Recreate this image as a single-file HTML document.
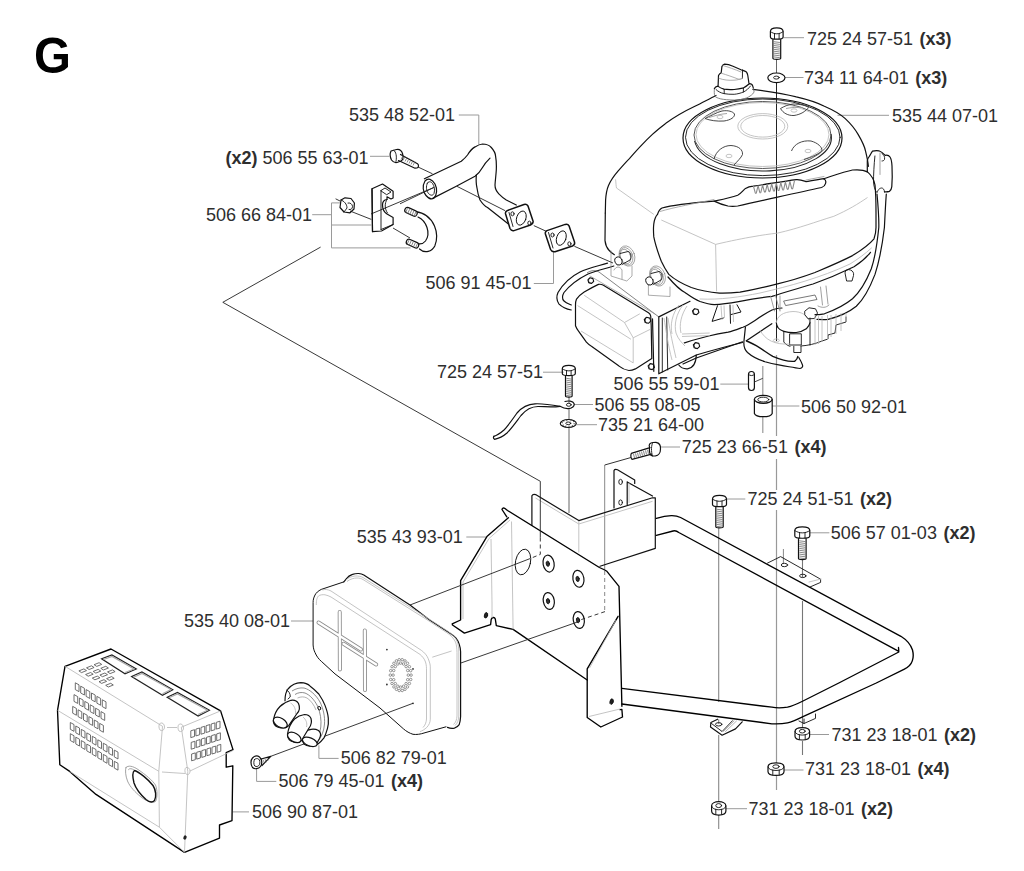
<!DOCTYPE html>
<html><head><meta charset="utf-8"><style>
html,body{margin:0;padding:0;background:#fff;width:1024px;height:871px;overflow:hidden}
svg{position:absolute;left:0;top:0}
.t{font-family:"Liberation Sans",sans-serif;font-size:18px;fill:#2e2e2e}
.b{font-weight:bold}
.g{stroke:#9a9a9a;stroke-width:1;fill:none}
.k{stroke:#111;stroke-width:1.2;fill:none;stroke-linejoin:round;stroke-linecap:round}
.kt{stroke:#111;stroke-width:0.9;fill:none;stroke-linejoin:round;stroke-linecap:round}
.kb{stroke:#000;stroke-width:1.35;fill:none;stroke-linejoin:round;stroke-linecap:round}
.lg{stroke:#b5b5b5;stroke-width:0.8;fill:none}
.w{fill:#fff}
</style></head><body>
<svg width="1024" height="871" viewBox="0 0 1024 871">
<text x="34" y="73" font-family="Liberation Sans" font-weight="bold" font-size="50" fill="#000" transform="translate(34 0) scale(0.95 1) translate(-34 0)">G</text>
<g class="g">
<path d="M783.4,37.7H804"/>
<path d="M785,77.5H803.5"/>
<path d="M837.5,115.3H889"/>
<path d="M458.8,115H478.8V144.4"/>
<path d="M370,156.3H389.4"/>
<path d="M312.2,214.7H331.5M331.5,202.9V247.9M331.5,202.9H340.3M331.5,225H371.3M331.5,247.9H410.5"/>
<path d="M533.8,283.5H553.5V251.9"/>
<path d="M543,372.2H563.6"/>
<path d="M720.3,384.1H748.4"/>
<path d="M574,404.5H593"/>
<path d="M577,424.7H597"/>
<path d="M772.2,406H799.4"/>
<path d="M660,447H680"/>
<path d="M726.6,499H745.3"/>
<path d="M809.7,532.8H829.4"/>
<path d="M466.3,537H486"/>
<path d="M291,621H313"/>
<path d="M318.9,745.3V758.4H338.6"/>
<path d="M256.6,768.3V781.4H276.3"/>
<path d="M232.7,811.9H249"/>
<path d="M809.6,734.5H829"/>
<path d="M784,770H803.5"/>
<path d="M725.8,808.7H747"/>
</g>
<g fill="none" stroke-width="1">
<path d="M776.5,59V73" stroke="#666"/>
<path d="M776.5,82V341" stroke="#222"/>
<path d="M776.5,355V436M776.5,459V490M776.5,510V763M776.5,776V790" stroke="#999" stroke-width="1.2"/>
<path d="M762.8,366V395M762.8,417V433" stroke="#999" stroke-width="1.2"/>
<path d="M569,397V403M569,408V420M569,428V513" stroke="#666"/>
<path d="M718.7,528V702M718.7,719.5V724M718.7,735V802M718.7,815V829" stroke="#888" stroke-width="1.1"/>
<path d="M802.5,559V577M802.5,601V728M802.5,741V755" stroke="#777" stroke-width="1.1"/>
<path d="M783.4,549V563" stroke="#888"/>
<path d="M604.7,465V570" stroke="#888"/>
<path d="M604.7,571V611.6" stroke="#888" stroke-dasharray="4,3"/>
<path d="M631,457.5L604.7,465" stroke="#333"/>
</g>
<g class="k">
<!-- shroud outer -->
<path d="M605.3,213 L605.6,200 C606,194 607,189 608.5,185.5 C610.5,181 613,177 618,171.2 C622,166.5 625,163 629.4,158.6 C633,154.5 637,150 640.9,145.9 C645,141.5 648.5,138 652.4,134.4 C657,130 661,127 666.2,123 C676,116 685,111 694.9,106.3 C702,102.8 709,99 716,95.5"/>
<path d="M753,89.4 C770,91.5 785,94 796.3,96.9 C808,99.6 817,102.5 824.4,106.3 C834,110.5 840,114 845,118.4 C851,124 855,129 858.1,134.4 C862,141 864.5,146 865.6,151.3 C867,157 868,162 868.4,166.3"/>
<path d="M605.3,213 L605,240.6 C605.5,245 607,248 608.8,250 C610.5,252 612,253.5 614.4,254.7"/>
<!-- blower housing front -->
<path d="M657.5,214.4 C658.5,211 660,209 662,208 C672,205 690,203 714.2,201.1"/>
<path d="M823.6,178.7 C835,175 845,171.5 852.5,170 C858,169.5 864,170 867.5,171.9 C871,175 874,179 875,185 C876,195 876,205 876,213 L876,227.5 C876,232 875,236 874,238.8 C868,246 860,251 852.5,255.6 C840,262 828,267 815,272.5 C800,278 790,281 777.5,283.8 C765,287 752,290 740,292.2 C732,293 726,293.3 719.4,293.1 C708,292 699,290 691.3,287.5 C680,283 674,279 668.8,274.4 C665,269 663,265 661.3,261.3 C657,250 655,243 653.8,236.9 C653.3,231 653.3,228 653.8,223.8 C654.5,219 656,216 657.5,214.4"/>
<path d="M668,277 C674,284 680,290 685,292.5 C690,296 694,299 700,301.5 C706,303.5 710,304.5 714.2,304.6 C722,304.5 730,303.3 738.6,301.7 C750,299.5 762,297.5 772,296.4 C785,292 800,288 813,284 C827,279 841,273 854,266.7 C860,263 866,258 870.5,252.3"/>
<path d="M700,299 C720,300 740,297 760,293 C790,286 820,278 850,264 C858,259 865,254 871.5,248" class="lg"/>
<!-- handle -->
<path d="M714.2,201.1 C722,199.5 730,198 737.7,195.3 C741,193.5 743,190.5 745.5,188.4 C748,186.8 750.5,186.3 753.3,186.1 C768,184 782,181.5 796.3,179.6 C800,179.3 803,180.5 806,181.6 C812,181 818,179.5 823.6,178.7 C825.5,179.5 826.2,181.5 825.5,183.6 C825,185.5 823.5,186.8 821.6,187.5 C795,193 766,200 737.7,206 C734.5,206.5 731,206.5 727.9,206 C722.5,204.8 718,203 714.2,201.1 Z"/>
<path d="M660,211.5 C675,207 695,203.5 714,199.5 M806,180 C812,179 818,177.5 824,176.5" stroke="#999" stroke-width="0.8"/>
<path d="M753.5,186.3 L755.2,192.7 Q755.8,193.9 756.4,192.7 L758.1,185.7 L759.7,192.2 Q760.3,193.4 760.9,192.2 L762.6,185.1 L764.3,191.6 Q764.9,192.8 765.5,191.6 L767.2,184.4 L768.8,191.1 Q769.4,192.3 770.0,191.1 L771.7,183.8 L773.4,190.5 Q774.0,191.7 774.6,190.5 L776.3,183.2 L778.0,189.9 Q778.6,191.1 779.2,189.9 L780.8,182.6 L782.5,189.4 Q783.1,190.6 783.7,189.4 L785.4,181.9 L787.1,188.8 Q787.7,190.0 788.3,188.8 L789.9,181.3 L791.6,188.3 Q792.2,189.5 792.8,188.3 L794.5,180.7 " stroke="#8a8a8a" stroke-width="1.1" fill="none" stroke-linejoin="round"/>
<!-- flywheel cover -->
<ellipse cx="762.5" cy="138" rx="79.5" ry="40"/>
<ellipse cx="762.8" cy="137.3" rx="77.3" ry="38.3" class="kt"/>
<!-- fuel cap -->
<path d="M714.4,88.5 C714.2,91 714.2,94 714.7,96 C717,98.5 722,99.8 734.2,100.1 C742,100 748,98 751.5,95 C753.5,93.5 754.2,92 754,91.2 C753.8,90 753.6,89 753.3,88.5" stroke="#777" stroke-width="0.9" fill="none"/>
<path d="M714.4,88.5 C715,87.3 716.3,86.5 717.8,86.1 C719.5,87.5 721.5,88.5 723.9,89.2 C727,89.7 730.5,89.8 734.2,89.5 C737.5,89.2 740.5,88.6 743.7,87.8 C746,86.5 747.8,85 749.2,83.7 C750.5,83.8 751.3,84 751.9,84.4 C752.5,85.3 753,86.5 753.3,88"/>
<path d="M716,89.5 C718,91.5 720.5,92.8 723.9,93.6 C727,94.2 730.5,94.4 734.2,94.3 C737.5,94 740.5,93.2 743.7,91.9 C746.5,90.5 748.5,88.5 750.5,86" class="kt"/>
<path d="M724.2,89.3 L724.2,93.6 M743.4,88 L743.4,92" class="kt"/>
<path d="M718.1,85.8 L718.5,75.5 C719.2,74.3 720.2,73.4 721.2,72.8 L721.9,66.6 C722.5,65.3 723.5,64.5 724.6,64.2 C727,64.3 730,65 733,66.2 L741,69.7 C743,70.5 745,71.2 746.5,72.1 C747.3,73.2 747.6,74.3 747.8,75.5 L748.9,83"/>
<path d="M742.5,70 L742.4,78.2" class="kt"/>
<path d="M721.5,73.3 C727,75 733,77 738,79 C740,79.5 741.5,79 742.4,78.2 M719,78.3 C723,80 729,80.6 734,80.2 C737,80 739.5,79.5 742,78.5 M723,65.5 C728,67 735,69.5 741,72" stroke="#999" stroke-width="0.8" fill="none"/>
<!-- spark plug boot -->
<path d="M872.5,151.2 C875,150.5 877,150.5 878.9,150.8 C881,151.5 883,153 885.3,155.3 C887,155 889,155.5 890,157 C891,158.5 891.8,162 892,166 C892.3,172 892.3,180 891.8,186.6 C891.5,189 890.5,190.8 889.4,191.4 C887.5,192 886,192 884.5,191.8 M872.5,151.2 C871,153 870.5,155 869,156.9 C868,158 867.5,159.5 867.3,160.9 L867.3,172.1"/>
<path d="M874.9,156 C874,165 873.5,175 873.5,182 C873.8,186 874.8,190 876.5,192.2" class="kt"/>
<path d="M877.3,192.2 C878,189 880.5,188 881.5,188 C883,188 884.5,189.5 884.5,192" class="kt"/>
<path d="M880,153 L880,174.5" stroke="#999" stroke-width="0.9"/>
<path d="M882,153.5 C884,154.5 885,157 884.5,159.5 C884,160.5 883,161 882,161" class="kt"/>
<!-- spark plug wire -->
<path d="M877,194 C878.5,210 879,220 878.8,227.5 C877,245 875,258 871.3,268.8 C866,282 860,292 852.5,298.8 C845,305 835,310 824.4,313.8 C820,314.5 817,314.7 815,314.7"/>
<path d="M886.3,194 C885.5,205 885,215 884.4,227.5 C882,248 879,262 875,274.4 C869,290 863,300 856.3,306.3 C848,313 838,317 828.1,319.4 C823,319.8 819,319.5 817,319.4"/>
<!-- engine block / carb -->
<path d="M598.4,284.4 C593,287 588.5,289.5 584.2,292 C581,294 578.5,296.5 576.5,299.1 C575.7,301 575.5,303 575.5,305.1 L575.5,325.8 C576.3,328 577.3,329.8 578.7,331.3 L586.4,342.2 C588,344 589.8,345.5 591.8,346.5 L619,366.1 C622,368.5 625.5,370 628.9,370.5 C631,370.5 633.3,369.9 635.4,368.9 L651.8,358.5 L651.2,325.8 L650.7,316 M598.4,284.4 C600,284 601.5,284.3 603,285 L648.5,312.7 C649.8,313.5 650.5,314.7 650.7,316"/>
<path d="M587.5,272.5 L591,271 C594,270 597,271 599,272 L658.8,316.9" stroke="#777" stroke-width="0.9"/>
<path d="M658.8,316.9 L690,301.3 M658.8,316.9 L658.8,373.8 L696.3,355 C710,351 728,346 742.5,342.5"/>
<path d="M590,276 L655,314" stroke="#999" stroke-width="0.8"/>
<path d="M652.5,318.8 L653.8,371.3"/>
<path d="M678.8,365 C681,368 684,369 687.5,368.8 C693,368 696,364 696.3,355"/>
<path d="M684.3,342.9 C692,340.5 700,338 708.7,336 C715,334.5 721,333.3 728.2,332.1 C733,331 738,329 742.9,327.2 C747,325.5 751,323 755,320.4 C760,317 766,313 772,310 C776,308.5 779,308 782,308"/>
<path d="M717.5,305.7 L712.1,321.4 L723.4,318 M730,305 L730.5,323.3 M737,304.8 L741,312 L731.2,314.5" stroke-width="1"/>
<path d="M662.3,318 L662.3,372 M666.7,317 L667.7,370" stroke-width="0.9"/>
<path d="M683,364 L696.3,358 L742.5,341.8"/>
<path d="M745.4,327.1 L744,340.8 C743.5,345 744,349 747.5,352.5 C752,356.5 758,359.5 765,361.8 C770,363.3 775,364.5 780,365.2 C788,366.5 795,367.8 800,368.5 C802,368 803,366.8 802.5,365 C801.5,362 800,359.5 798.8,357.5"/>
<path d="M746.4,340.8 C750,342.5 753,343.8 756.2,345.7 C762,349 767,353 772.8,356.4 C780,359.5 788,362 794.6,361.3 C796.5,360 797.5,358.5 797.8,356.5" stroke-width="1.4"/>
<path d="M746.4,340.8 L771.8,323.7"/>
<path d="M776.3,322.5 C776.5,327 779,330 783.8,331.3 C788,332.5 792,332.8 796.3,332.5 C800,332 803.5,330.8 806.3,328.8 C808.5,326.5 809.8,324.5 810,322.5"/>
<path d="M776.3,322.5 C777,316 783,312 793,311.5 C801,311.5 808,315 810,322.5" class="lg"/>
<path d="M783.8,331.3 L783.8,342 C786,345 789,346 790,346.3 M790,333.8 L801.3,333.8 L801.3,345 L790,345 Z M793.8,346.3 L793.8,352.5 L801,352.5 L801,346.3" class="kt"/>
<path d="M805,311 L809,307.8 L815.5,308.8 L817.5,313 L814.5,318.5 L808,318.8 L805,315 Z" class="kt"/>
<path d="M810,318 L810,345 M801,346 C808,345.5 815,344 822,341 L828,339 L828,335 L835,333 L836,325 L846,322 L846,317" class="kt"/>
<path d="M784,301 L815,295 L817,299.5 L786,305.5 Z" stroke="#555" stroke-width="0.8"/>
<path d="M770.5,296 L774.5,311 M775.5,295.5 L779.5,310 M780,296 L780,311" stroke="#888" stroke-width="0.8"/>
<path d="M820.5,287 L822.5,305 M826,286 L828,304 M818,306 C822,308 826,308 829,305" stroke="#888" stroke-width="0.8"/>
<path d="M845,272.5 C845,270 848,269 850.5,270 C853,271 854,273 853.5,275.5 L852,281 L847,281 Z" class="kt"/>
<!-- fuel line -->
<path d="M607.5,263.1 C598,266 588,268 580,272 C570,277 563,284 558,292.5 C556,297 557,301 558.8,303.8 C562,307 566,309 571.3,310"/>
<path d="M613.8,266 C604,269 595,271 588,274 C578,279 570,285 564,292.5 C562,296 562,299 564,301 C566,303 569,304 571.3,305"/>
</g>
<g class="lg">
<path d="M584.2,295.3 L624.5,322.5 L639.8,313.8 M624.5,322.5 L633.2,337.8 L633.2,362.9 M633.2,337.8 L650.7,329.1 M577.6,305.6 L631,339.3 M581,331 L633.2,362.9"/>
<path d="M721,305.5 L722,320 M724,305.5 L724.5,318 M733,305 L733.5,322 M683,305 C676,314 674,325 676,333 C678,339 682,343 685,346 M679,305 C672,314 670,325 672,334 M687,306 C681,315 679,325 681,333 M682,334 L709.7,333 M682,336.5 L709.7,335.5"/>
<path d="M815,316 L815,345 M818.5,316 L818.5,344 M822,316 L822,342 M827.5,315 L827.5,340 M831,315 L831,337 M836,314 L836,334 M841,313 L841,331 M846,313 L846,322"/>
<path d="M664,318 C666,330 668,345 672,360 M668,318 C670,332 673,345 676,358"/>
<path d="M760,330 C765,340 775,345 790,344"/>
<ellipse cx="776.3" cy="340.5" rx="3" ry="1.6"/>
</g>
<g class="kt">
<path d="M650.7,321.1 L648.4,323.3 L645.2,322.5 L644.3,319.5 L646.6,317.3 L649.8,318.1 Z" stroke-width="1.1"/><path d="M646.0,317.3 C644.7,319.3 645.0,321.8 646.5,323.3" stroke-width="0.7"/>
<path d="M654.5,367.4 L652.2,369.6 L649.0,368.8 L648.1,365.8 L650.4,363.6 L653.6,364.4 Z" stroke-width="1.1"/><path d="M649.8,363.6 C648.5,365.6 648.8,368.1 650.3,369.6" stroke-width="0.7"/>
<path d="M698.9,312.5 L696.6,314.7 L693.4,313.9 L692.5,310.9 L694.8,308.7 L698.0,309.5 Z" stroke-width="1.1"/><path d="M694.2,308.7 C692.9,310.7 693.2,313.2 694.7,314.7" stroke-width="0.7"/>
<path d="M699.7,346.4 L697.4,348.6 L694.2,347.8 L693.3,344.8 L695.6,342.6 L698.8,343.4 Z" stroke-width="1.1"/><path d="M695.0,342.6 C693.7,344.6 694.0,347.1 695.5,348.6" stroke-width="0.7"/>
<path d="M593.7,281.3 L591.6,283.4 L588.7,282.6 L587.9,279.9 L590.0,277.8 L592.9,278.6 Z" stroke-width="1.1"/><path d="M589.3,277.9 C588.0,279.6 588.3,282.1 589.8,283.3" stroke-width="0.7"/>
<g stroke="#888" stroke-width="0.7" fill="none">
<ellipse cx="625.5" cy="256.5" rx="5" ry="7.5" transform="rotate(-20 625.5 256.5)"/>
<ellipse cx="626.3" cy="256.3" rx="6.3" ry="9" transform="rotate(-20 626.3 256.3)"/>
<ellipse cx="627" cy="256" rx="7.6" ry="10.4" transform="rotate(-20 627 256)"/>
<ellipse cx="656" cy="276.5" rx="5" ry="7.5" transform="rotate(-20 656 276.5)"/>
<ellipse cx="656.8" cy="276.3" rx="6.3" ry="9" transform="rotate(-20 656.8 276.3)"/>
<ellipse cx="657.5" cy="276" rx="7.6" ry="10.4" transform="rotate(-20 657.5 276)"/>
<path d="M611,251 L611,276 L626.8,281 L632,276 L632,266 M614,270 C616,266 620,266 622,270 L622,279"/>
<path d="M648.4,283 L648.4,295.2 L670,296.5 L670,287"/>
</g>
<g class="kt" stroke-width="1">
<path d="M620,253.5 L628,251.5 C631,252 632,257 630,260 L622,264.5"/>
<ellipse cx="618.5" cy="261" rx="3.6" ry="4.2" transform="rotate(-20 618.5 261)" fill="#fff"/>
<path d="M651,273.5 L659,271.5 C662,272 663,277 661,280 L653,284.5"/>
<ellipse cx="649.5" cy="281" rx="3.6" ry="4.2" transform="rotate(-20 649.5 281)" fill="#fff"/>
</g>

</g>

<g class="lg">
<path d="M615.6,179.4 C616,183 616,186 616.5,188 L653.8,214.4"/>
<path d="M661.3,220 L715.6,244.4 C730,241 745,238 752,236.9 C762,235 770,234 777.5,233.1 C800,228 815,222 833.8,216.3 C848,210 858,204 867.5,197.5"/>
<path d="M715.6,244.4 L716.6,291.3"/>
<ellipse cx="762.5" cy="135" rx="68.5" ry="33.5" stroke="#444" stroke-width="0.9"/>
<ellipse cx="762.5" cy="134.5" rx="66.5" ry="32"/>
<ellipse cx="762.8" cy="126.3" rx="25" ry="12.7"/>
<ellipse cx="762.8" cy="126.3" rx="22" ry="10.8"/>

<g stroke="#333" stroke-width="0.9" fill="none">
<path d="M705,118.5 C711,116 716,112.5 722,111 C728,110 733,111.5 734.5,114 C735,117 731,120 724,121 C717,121.5 710,120.5 705,118.5Z"/>
<path d="M780.5,108.5 C784,106.5 788,104.5 793,104 C800,104 806,105.5 808.5,107.5 C806,111 801,114.5 794,115.5 C788,115.8 783,113 780.5,108.5Z"/>
<path d="M714,159 C716,151 723,145.5 731,145.5 C739,146 743,150 742.5,154.5 C741,158 737.5,161 734,165"/>
<path d="M791.5,151 C794,144 802,140 811,141 C818,143 822,147 822,150.5 C819,154 812,157 804,159.5"/>
<path d="M709,117.5 C714,116 720,114 727,113.5 M786,108.5 C791,107.5 797,107 803,107.5" stroke="#999"/>
</g>
<path d="M694.6,141 A68.5 33.5 0 0 0 831,134" stroke="#222" stroke-width="1.05" fill="none"/>
<ellipse cx="720" cy="117" rx="3" ry="1.7"/>

<ellipse cx="794" cy="110.5" rx="3" ry="1.7"/>

<ellipse cx="729" cy="156" rx="3" ry="1.7"/>

<ellipse cx="808" cy="151" rx="3" ry="1.7"/>



</g>
<g class="k">
<!-- pipe -->
<path d="M424.4,178.8 L461.3,161.3 C464,159 466,157 467.5,155 C470,151 472,148.5 475,146.9 C478,145 480,144.2 482.5,144 C486,144 489,145 491.3,147.5 C494,150.5 495.5,153 495.6,156.3 C496.5,161 496.5,165 496.3,170 C496,175 495.3,180 495,185 C495,189 496,191 498.8,193.8 C501,196 503,198 506.3,200 L516.3,205"/>
<path d="M433.1,198.1 L456.3,186.3 L475,176.3 C478,174 480.5,171 482.5,167.5 C485,163 487.5,160.5 490,158.1"/>
<path d="M476.3,175 C476,180 476.3,185 476.9,187.5 C477.5,192 478.5,196 480,200 C482,203 484,206 487.5,207.5 L508.1,223.8"/>
<path d="M425,181 C422,186 423,192 426,195.5 C429,199 432,199.5 434,198 C437,195 437.5,189 435,184 C432,179 428,177.5 425,181Z"/>
<path d="M427.5,183 C425.5,186.5 426.5,191 428.5,193.5 C431,196 433,195.5 434,193.5 C435,190 434.5,186 432.5,183.5 C431,181.5 429,181 427.5,183Z" class="kt"/>
<!-- pipe flange -->
<path d="M507.5,210.5 C506,211 505.2,212.5 505.6,214 L510,228.5 C511,230.5 512.5,231 514,230.6 L530.5,225 C532.5,224 533.5,222.5 533,221 L528,206 C527,204.5 525.5,204 524,204.5 Z" stroke-width="1.5"/>
<path d="M509,212.5 L513,226.5" class="kt"/>
<ellipse cx="521.3" cy="218.1" rx="4.6" ry="7.3" transform="rotate(20 521.3 218.1)" class="kt"/>
<ellipse cx="512.5" cy="213.8" rx="1.6" ry="2" class="kt"/>
<ellipse cx="529.4" cy="223.1" rx="1.6" ry="2" class="kt"/>
<!-- gasket -->
<path d="M547,230.6 C545.5,231.3 545,232.5 545.4,234 L550.6,249.5 C551.5,251.5 553,252 555,251.7 L572.5,246 C574.3,245.2 575,243.8 574.5,242 L569,225.8 C568.2,224.3 566.8,224 565.2,224.4 Z" stroke-width="1.5"/>
<path d="M548.5,232.5 L553,248" class="kt"/>
<ellipse cx="561.3" cy="238.1" rx="4.6" ry="7.5" transform="rotate(20 561.3 238.1)" class="kt"/>
<ellipse cx="552.5" cy="235" rx="1.6" ry="2" class="kt"/>
<ellipse cx="569.4" cy="243.8" rx="1.6" ry="2" class="kt"/>
</g>
<g stroke="#222" stroke-width="0.9" fill="none">
<path d="M418,167 L432.5,173.8"/>
<path d="M400,203.8 L433.8,187.5"/>
<path d="M456.9,186.3 L505,210.6 M533.8,225.6 L546.3,231.3 M574.4,246.3 L613,263"/>
<path d="M350,211 L371.3,219.4 M393,228 L410,238"/>
<path d="M335.6,198.8 L340,201"/>
<path d="M371,214 L433.8,187.5"/>
</g>
<!-- bolt 506 55 63-01 -->
<g class="k">
<path d="M391,151 C390,153 390,157 391.5,160 C393,162 395,163 397,162.5 L401,161 C403,160 403.5,157 402.5,153.5 C401.5,150.5 399,149 396.5,149.5 Z"/>
<path d="M394,150.5 C396,152 397,156 396,161.5" class="kt"/>
<path d="M400.5,154.5 L417.5,163.8 C419,164.8 418.8,167.5 417,168 L415,168.2 L398.5,160.5"/>
</g>
<path d="M403,155.5 l-2,4 M405,156.5 l-2,4 M407,157.5 l-2,4 M409,158.5 l-2,4 M411,159.5 l-2,4 M413,160.5 l-2,4 M415,161.5 l-2,4" stroke="#666" stroke-width="0.7"/>
<!-- nut 506 66 84-01 -->
<g class="k">
<path d="M341,200 L345,197.8 L351,198.5 L354.4,203 L354,209 L350,212.8 L344,212 L340,207.5 Z"/>
<path d="M341,200 C344,201 347,204 347,208 L344,212" class="kt"/>
<path d="M348,203 C350,202.5 352.5,204 352.5,206.5 C352.5,209 350.5,210 349,209.5" class="kt"/>
</g>
<!-- clamp -->
<g class="k">
<path d="M372,188.8 L382.5,184 L393.1,191.3 L393.1,198 L391,199 L387,196.8 L387,199.5 C384,199.8 382.5,202 382.5,205 C382.5,209 384,212 387,214 L393.1,217.5 L393.1,224.5 L381.5,231 L372.5,231.6 Z"/>
<path d="M372,188.8 L372.5,231.6"/>
<path d="M381,190.5 L385,188 L391,192 L387,194.5 Z" class="kt"/>
<path d="M381,190.5 L381,229.5 M381,229.5 L393.1,224.5" class="kt"/>
<path d="M387,199.5 C384.5,203 384.5,209 387.5,213" class="kt"/>
</g>
<!-- U-bolt -->
<g class="k">
<path d="M415.5,211.6 C424,212.5 431,218 434.5,226 C437,232 437.2,240 434.8,246 C432,251.5 425,254 419.5,249"/>
<path d="M418,217 C422.5,219 425.5,223 427,227.5 C428.5,232 428,237.5 425.5,241 C423.5,243.5 420.5,244.5 417.3,243.6"/>
<g transform="rotate(24 411 211.8)"><rect x="404.5" y="209" width="13" height="5.6" rx="2.6" fill="#fff"/></g>
<g transform="rotate(24 412.5 243.6)"><rect x="406" y="240.8" width="13" height="5.6" rx="2.6" fill="#fff"/></g>
</g>
<g stroke="#555" stroke-width="0.7">
<path d="M407.5,208.3 l-2,4.6 M409.6,209.2 l-2,4.6 M411.7,210.1 l-2,4.6 M413.8,211 l-2,4.6 M415.9,211.9 l-2,4.6"/>
<path d="M409,240.1 l-2,4.6 M411.1,241 l-2,4.6 M413.2,241.9 l-2,4.6 M415.3,242.8 l-2,4.6 M417.4,243.7 l-2,4.6"/>
</g>
<!-- upper C piece -->
<g class="k">
<path d="M531.9,525.3 L531.9,495.8 C532.5,494.5 534,494 535.6,494.6 L578.8,520.6 L652.5,497.8 L655.3,497.8 L655.3,548.4 L600,566.3"/>
<path d="M614,508 L614,470.5 C614.5,469.5 616,469.3 617.5,469.8 L634.7,480 L634.7,483.5"/>
<path d="M627.2,481.9 L627.2,504.4 M627.2,481.9 L652.5,496"/>
</g>
<path d="M535.5,498 L578.8,524 L652.5,501.3 M578.8,521 L578.8,552.5 M629,483 L629,503" class="lg"/>
<ellipse cx="620.6" cy="481.9" rx="1.8" ry="2.6" class="kt"/>
<ellipse cx="620.6" cy="502.5" rx="1.8" ry="2.6" class="kt"/>
<!-- main bracket plate -->
<g class="kb">
<path d="M506.8,516.9 L502,509.5 C502.2,508 503.5,507.5 505,508.5 L507.5,510.5 L599.4,567.5 C603,569 605,570 606.9,571.3 L619,586.3 L621.9,706.3"/>
<path d="M508.4,517.8 L486.9,536.6 L460.6,580.6 L460.6,620 L452.2,623.8 L452.5,625 L464.4,633.1 L490.6,624.7 L491.2,619.5 C491.8,617 494.5,616.8 495.3,619 L496.3,625.6 L513.1,629.4 L587.2,680"/>
<path d="M618.1,616.3 L587.2,668.8 L587.2,717.5 L600.8,727 L622.5,717 L621.9,709.5 L620,709.6"/>
</g>
<path d="M510,520 L489,538.5 L463,582 L463,619 M616,620 L589.5,668 M491,539 L492,603 L492,618 M511.5,521.5 L513.1,629.4 M589,716.5 L620,709" class="lg"/>
<g class="kt">
<ellipse cx="523" cy="562" rx="7.5" ry="13" transform="rotate(12 523 562)"/>

<ellipse cx="548.6" cy="563.6" rx="5.5" ry="8.5" stroke-width="1.2" transform="rotate(-10 548.6 563.6)"/>
<ellipse cx="547.8" cy="563.6" rx="1.6" ry="2.6" fill="#333" transform="rotate(-10 548.6 563.6)"/>
<ellipse cx="578.4" cy="578.8" rx="5.5" ry="8.5" stroke-width="1.2" transform="rotate(-10 578.4 578.8)"/>
<ellipse cx="577.6" cy="578.8" rx="1.6" ry="2.6" fill="#333" transform="rotate(-10 578.4 578.8)"/>
<ellipse cx="548.8" cy="601" rx="5.5" ry="8.5" stroke-width="1.2" transform="rotate(-10 548.8 601)"/>
<ellipse cx="548" cy="601" rx="1.6" ry="2.6" fill="#333" transform="rotate(-10 548.8 601)"/>
<ellipse cx="578.8" cy="620" rx="5.5" ry="8.5" stroke-width="1.2" transform="rotate(-10 578.8 620)"/>
<ellipse cx="578" cy="620" rx="1.6" ry="2.6" fill="#333" transform="rotate(-10 578.8 620)"/>
<ellipse cx="486" cy="615.3" rx="1.6" ry="2.8" transform="rotate(15 486 615.3)" fill="#222"/>
<ellipse cx="611.6" cy="701.6" rx="1.6" ry="2.8" transform="rotate(15 611.6 701.6)" fill="#222"/>
</g>
<!-- frame tube -->
<g class="kb">
<path d="M656.3,518.4 C661,517 666,515.8 671.3,515.6 C675,515.5 678,516.2 680.6,517.5 L900.9,636.3 C906,639.5 910.5,644 912.5,650 C914,656 913,661.5 909.5,665.5 C907.5,667.5 906,668.3 904.4,669.1 L876.3,683 L803,716.6 C798,719 793,721.5 787.5,722.8 C782,724 776,724 771.9,723.8 L621.9,704"/>
<path d="M656.3,535.3 L673.1,531 C675,530.5 677,531 678.8,532.5 L898.8,651.3 L898.5,647.5 M898.8,652 L838.8,683 L803,701 C798,703.5 793,706 787.5,707.2 C782,708 776,708 771.9,707.2 L621.9,688.4"/>
</g>
<g class="kt">
<path d="M767.5,563.1 L780.6,556.6 L820.6,579.2 L820.6,582.4 L810,587"/>
<path d="M809,582 L821,579" class="lg"/>
<ellipse cx="784.4" cy="565" rx="3.2" ry="1.7"/>
<ellipse cx="802.8" cy="575.9" rx="3.2" ry="1.7"/>
<path d="M717.6,719.2 L710.9,722.5 L710.5,727 L722.1,735.2 L735.5,728.9 L742.2,721.8" stroke-width="1.2"/>
<path d="M711.5,723.5 L722.1,731.5 L732.5,720.7" stroke-width="0.9"/>
<path d="M723.5,731.5 L734,721 M725.5,731.5 L736.5,721" stroke="#999" stroke-width="0.7"/>
<ellipse cx="718.7" cy="724.3" rx="3.2" ry="1.7"/>
<path d="M799,721 L804,723.5 L815.5,718.4 L815.5,714 M804,719 L804,723.5"/>
</g>
<path class="k" d="M770.4,31.6 C770.4,26.7 783.1,26.7 783.1,31.6 L783.1,36.9 C783.1,39.9 770.4,39.9 770.4,36.9 Z"/>
<path class="kt" d="M770.4,31.6 C774.3,34.6 779.3,34.6 783.1,31.6 M774.5,33.4 L774.5,38.7 M779.1,33.4 L779.1,38.7" stroke="#666"/>
<path class="k" d="M772.9,39.6 L772.9,58.2 C772.9,59.7 780.7,59.7 780.7,58.2 L780.7,39.6"/>
<path d="M773.7,41.7 L779.9,42.5 M773.7,43.6 L779.9,44.4 M773.7,45.5 L779.9,46.3 M773.7,47.4 L779.9,48.2 M773.7,49.3 L779.9,50.1 M773.7,51.2 L779.9,52.0 M773.7,53.1 L779.9,53.9 M773.7,55.0 L779.9,55.8 M773.7,56.9 L779.9,57.7 " stroke="#555" stroke-width="0.7" fill="none"/>
<path class="k" d="M562.3,368.8 C562.3,364.3 575.3,364.3 575.3,368.8 L575.3,373.6 C575.3,376.4 562.3,376.4 562.3,373.6 Z"/>
<path class="kt" d="M562.3,368.8 C566.2,371.6 571.4,371.6 575.3,368.8 M566.5,370.5 L566.5,375.3 M571.1,370.5 L571.1,375.3" stroke="#666"/>
<path class="k" d="M565.5,376.1 L565.5,395.9 C565.5,397.4 572.1,397.4 572.1,395.9 L572.1,376.1"/>
<path d="M566.3,378.3 L571.3,379.1 M566.3,380.2 L571.3,381.0 M566.3,382.1 L571.3,382.9 M566.3,384.0 L571.3,384.8 M566.3,385.9 L571.3,386.7 M566.3,387.8 L571.3,388.6 M566.3,389.7 L571.3,390.5 M566.3,391.6 L571.3,392.4 M566.3,393.5 L571.3,394.3 M566.3,395.4 L571.3,396.2 " stroke="#555" stroke-width="0.7" fill="none"/>
<path class="k" d="M712.5,499.1 C712.5,494.2 726.5,494.2 726.5,499.1 L726.5,504.4 C726.5,507.4 712.5,507.4 712.5,504.4 Z"/>
<path class="kt" d="M712.5,499.1 C716.7,502.1 722.3,502.1 726.5,499.1 M717.0,500.9 L717.0,506.2 M722.0,500.9 L722.0,506.2" stroke="#666"/>
<path class="k" d="M715.8,507.1 L715.8,526.8 C715.8,528.3 723.2,528.3 723.2,526.8 L723.2,507.1"/>
<path d="M716.5,509.2 L722.5,510.0 M716.5,511.1 L722.5,511.9 M716.5,513.0 L722.5,513.8 M716.5,514.9 L722.5,515.7 M716.5,516.8 L722.5,517.6 M716.5,518.7 L722.5,519.5 M716.5,520.6 L722.5,521.4 M716.5,522.5 L722.5,523.3 M716.5,524.4 L722.5,525.2 M716.5,526.3 L722.5,527.1 " stroke="#555" stroke-width="0.7" fill="none"/>
<path class="k" d="M794.8,530.6 C794.8,525.6 809.8,525.6 809.8,530.6 L809.8,535.9 C809.8,539.0 794.8,539.0 794.8,535.9 Z"/>
<path class="kt" d="M794.8,530.6 C799.3,533.7 805.3,533.7 809.8,530.6 M799.6,532.4 L799.6,537.8 M805.0,532.4 L805.0,537.8" stroke="#666"/>
<path class="k" d="M798.5,538.7 L798.5,558.4 C798.5,559.9 806.1,559.9 806.1,558.4 L806.1,538.7"/>
<path d="M799.3,540.8 L805.3,541.6 M799.3,542.7 L805.3,543.5 M799.3,544.6 L805.3,545.4 M799.3,546.5 L805.3,547.3 M799.3,548.4 L805.3,549.2 M799.3,550.3 L805.3,551.1 M799.3,552.2 L805.3,553.0 M799.3,554.1 L805.3,554.9 M799.3,556.0 L805.3,556.8 M799.3,557.9 L805.3,558.7 " stroke="#555" stroke-width="0.7" fill="none"/>
<path class="k" d="M795.0,731.5 C795.0,726.2 809.6,726.2 809.6,731.5 L809.6,736.3 C809.6,741.2 795.0,741.2 795.0,736.3 Z"/>
<path class="kt" d="M795.0,731.5 C795.0,736.4 809.6,736.4 809.6,731.5 M799.4,734.6 L799.4,739.4 M805.2,734.6 L805.2,739.4" stroke="#555"/>
<ellipse class="kt" cx="802.3" cy="731.2" rx="2.9" ry="1.8"/>
<path class="k" d="M768.0,766.9 C768.0,761.6 784.0,761.6 784.0,766.9 L784.0,771.7 C784.0,776.6 768.0,776.6 768.0,771.7 Z"/>
<path class="kt" d="M768.0,766.9 C768.0,771.8 784.0,771.8 784.0,766.9 M772.8,770.0 L772.8,774.8 M779.2,770.0 L779.2,774.8" stroke="#555"/>
<ellipse class="kt" cx="776.0" cy="766.6" rx="3.2" ry="1.8"/>
<path class="k" d="M711.6,805.9 C711.6,800.3 725.9,800.3 725.9,805.9 L725.9,811.1 C725.9,816.4 711.6,816.4 711.6,811.1 Z"/>
<path class="kt" d="M711.6,805.9 C711.6,811.2 725.9,811.2 725.9,805.9 M715.8,809.2 L715.8,814.4 M721.6,809.2 L721.6,814.4" stroke="#555"/>
<ellipse class="kt" cx="718.7" cy="805.6" rx="2.9" ry="2.0"/>
<!-- washer 734 11 64-01 -->
<ellipse class="k" cx="776.4" cy="77.8" rx="8.6" ry="4.8"/>
<ellipse class="kt" cx="776.4" cy="77.6" rx="2.8" ry="1.5"/>
<!-- cable lug 506 55 08-05 -->
<g class="k">
<path d="M565,401.5 C568,400.5 573,401 574,403.5 C575,406 572,408.7 568,408.7 C565,408.8 562,407.5 560,406.3 C550,404.5 542,403.5 535,403.8 C528,404 522,407 517,413 C512,420 508,426 504,430 C500,433.5 497,435.5 493.8,436.3"/>
<path d="M560,406.3 C552,407.5 545,406.5 538,406.5 C531,406.6 526,409.5 521,415.5 C516,422 511,429 507,433 C503,436.5 499,438.5 494.5,439.3 C493.5,438.5 493.4,437 493.8,436.3"/>
</g>
<ellipse class="kt" cx="568.8" cy="404.8" rx="2.4" ry="1.5"/>
<!-- lock washer 735 21 64-00 -->
<ellipse class="k" cx="568.3" cy="423.5" rx="8" ry="4"/>
<ellipse class="kt" cx="568.3" cy="423.3" rx="2.5" ry="1.3"/>
<path d="M561,422 l2,1 M562,425.5 l2,-0.5 M565,427 l1,-1.5 M569,427.3 l0,-1.8 M573,426.5 l-1,-1.5 M575.5,424 l-2,-0.3 M575,421 l-2,0.8 M571.5,419.8 l-1,1.5 M566.5,419.7 l0.5,1.5 M563,420.5 l1,1.2" stroke="#333" stroke-width="0.8"/>
<!-- pin 506 55 59-01 -->
<rect class="k" x="748.5" y="371.5" width="5.9" height="19" rx="2.9"/>
<path d="M748.6,374.5 C750,376 753,376 754.3,374.5" class="kt"/>
<path d="M754.4,382 L762.8,378.3" stroke="#333" stroke-width="0.9"/>
<!-- spacer 506 50 92-01 -->
<path class="k" d="M754.4,399.3 L754.4,413.5 C756,417.8 770.5,417.8 772.2,413.5 L772.2,399.3"/>
<ellipse class="k" cx="763.3" cy="399.3" rx="8.9" ry="4"/>
<ellipse class="kt" cx="763.3" cy="399.6" rx="5.5" ry="2.4"/>
<!-- horizontal bolt 725 23 66-51 -->
<g class="k">
<path d="M650,447.6 L631.3,453.4 C630.5,455 630.8,458 632,459.3 L651.6,454.2"/>
<path d="M649.5,447 C648.5,444.5 650,442.8 653,442.5 L656,442.3 C659,442.8 660.8,445.5 660.5,449 C660.5,452.5 658.5,455.5 655.5,455.8 L652.5,456 C650.5,455.5 649,452 649.5,447Z"/>
<path d="M653,442.5 C651,444.5 651,452 652.5,456" class="kt"/>
</g>
<path d="M633.5,454 l1,4 M635.5,453.4 l1,4 M637.5,452.8 l1,4 M639.5,452.2 l1,4 M641.5,451.6 l1,4 M643.5,451 l1,4 M645.5,450.4 l1,4 M647.5,449.8 l1,4" stroke="#555" stroke-width="0.7"/>
<g class="k">
<!-- outer -->
<path d="M343.8,581.9 L321.3,589.4 C318,591 316,593 315,595 C313.5,598 313.1,600 313.1,602.5 L313.1,645 C313.3,648 314,650.5 315,652.5 C316.5,656 318.5,659 321.3,661.3 L335,673.9 L380,708 L403.4,728.8 C406.5,731.5 409.5,733.2 413,734.3 C416.5,734.8 420.5,734.2 424,733 L446,726.8" stroke-width="1"/>
<path d="M343.8,581.9 C345,580.5 345.8,579.5 346.3,578.8 C348,576.5 350,575.2 352.5,574.4 C354.5,573.7 356.5,573.4 358.8,573.5 C360.5,573.7 362.3,574.2 363.8,575 L410,605 L429.6,620 L448.9,632.4 C451.5,634 454,636 455.8,637.9 C457.5,640 458.5,642 459.2,644.1 C460.2,647 460.6,649.5 460.6,651.7 L460.6,716.4 C460.5,719.5 460,722 459.2,724.7 C458,726.5 456.5,727.6 454.4,728.1 C452,728.5 449.5,728.2 447.5,727.4"/>
</g>
<g class="lg">
<path d="M346,580 C348,578 351,576.5 355,576 C358,575.8 361,576.5 363,577.5 L429,619 L447.5,631 C452,634 455,637 457,641 C458.2,644 458.8,648 458.8,652 L458.8,716 C458.6,720 457.5,723.5 455,725.5"/>
<path d="M347,581.5 C350,579 354,578 357,578 C359.5,578 361.5,578.6 363,579.5 L429,621 L446.5,632.5 C450.5,635 453.5,638 455.5,642 C456.6,645 457,649 457,652.5 L457,716 C456.8,719.5 455.8,722.5 453.5,724.5"/>
<path d="M322.5,590 C325,589 328,589.5 331,591 L421.3,650.3 C424.5,652.5 427,655.5 428.2,658.6 C429.5,662 430.3,664.5 430.3,666.8 L430.3,719.2 C430.2,722.5 429,725 426.8,727.4 C424.5,729.5 422,731 420,731.6"/>
<path d="M316.3,605 C316.3,600 317,597.5 318.5,596 C320,594.8 322.5,594.5 325,594.8 C327,595.2 329,596 331,597 L420,654.4 C422.5,656.5 424.5,659 425.5,662 C426.5,665 426.5,668 426.5,671 L426.5,719 C426.3,722.5 425,725.5 423,727.5"/>
<path d="M432.3,657.2 L451.6,651"/>
</g>
<g fill="none" stroke-linecap="round">
<g stroke="#8c8c8c" stroke-width="4">
<path d="M339.7,612 L339.9,669.5 M318.5,622.5 L361,649.5"/>
<path d="M364.8,630.5 L365,690 M343.5,643.8 L376.2,664.5"/>
</g>
<g stroke="#fff" stroke-width="2.3">
<path d="M339.7,612 L339.9,669.5 M318.5,622.5 L361,649.5"/>
<path d="M364.8,630.5 L365,690 M343.5,643.8 L376.2,664.5"/>
</g>
</g>
<!-- vent ring -->
<g fill="none" stroke="#555" stroke-width="0.6">
<circle cx="411.1" cy="675.1" r="1.25"/>
<circle cx="410.7" cy="679.5" r="1.25"/>
<circle cx="409.4" cy="683.5" r="1.25"/>
<circle cx="407.5" cy="686.9" r="1.25"/>
<circle cx="405.0" cy="689.3" r="1.25"/>
<circle cx="402.2" cy="690.5" r="1.25"/>
<circle cx="399.2" cy="690.5" r="1.25"/>
<circle cx="396.4" cy="689.3" r="1.25"/>
<circle cx="393.9" cy="686.9" r="1.25"/>
<circle cx="392.0" cy="683.5" r="1.25"/>
<circle cx="390.7" cy="679.5" r="1.25"/>
<circle cx="390.3" cy="675.1" r="1.25"/>
<circle cx="390.7" cy="670.7" r="1.25"/>
<circle cx="392.0" cy="666.7" r="1.25"/>
<circle cx="393.9" cy="663.3" r="1.25"/>
<circle cx="396.4" cy="660.9" r="1.25"/>
<circle cx="399.2" cy="659.7" r="1.25"/>
<circle cx="402.2" cy="659.7" r="1.25"/>
<circle cx="405.0" cy="660.9" r="1.25"/>
<circle cx="407.5" cy="663.3" r="1.25"/>
<circle cx="409.4" cy="666.7" r="1.25"/>
<circle cx="410.7" cy="670.7" r="1.25"/>
<circle cx="408.3" cy="675.1" r="1.25"/>
<circle cx="407.7" cy="679.7" r="1.25"/>
<circle cx="406.1" cy="683.6" r="1.25"/>
<circle cx="403.6" cy="686.2" r="1.25"/>
<circle cx="400.7" cy="687.1" r="1.25"/>
<circle cx="397.8" cy="686.2" r="1.25"/>
<circle cx="395.3" cy="683.6" r="1.25"/>
<circle cx="393.7" cy="679.7" r="1.25"/>
<circle cx="393.1" cy="675.1" r="1.25"/>
<circle cx="393.7" cy="670.5" r="1.25"/>
<circle cx="395.3" cy="666.6" r="1.25"/>
<circle cx="397.8" cy="664.0" r="1.25"/>
<circle cx="400.7" cy="663.1" r="1.25"/>
<circle cx="403.6" cy="664.0" r="1.25"/>
<circle cx="406.1" cy="666.6" r="1.25"/>
<circle cx="407.7" cy="670.5" r="1.25"/>
</g>
<g fill="#333">
<circle cx="386.9" cy="649.6" r="0.9"/>
<circle cx="413" cy="668.9" r="0.9"/>
<circle cx="386.9" cy="684.5" r="0.9"/>
<circle cx="413" cy="703.3" r="0.9"/>
</g>
<!-- assembly lines -->
<g stroke="#222" stroke-width="0.9" fill="none">
<path d="M320.6,247.1 L222.8,302.3 L540.3,481.3 L540.3,537.5"/>
<path d="M540.3,537.5 L540.3,554.4 L529,559" stroke-dasharray="4,3"/>
<path d="M529,559 L410,605"/>
<path d="M460.6,663.1 L577.8,621.9"/>
<path d="M605,611.6 L580,620" stroke-dasharray="4,3"/>
<path d="M270.8,756.3 L413,703.3"/>
</g>
<g class="k">
<path d="M285,700.8 C285,696 286,691.5 288,689 C292,684.5 296,682.8 300.8,682.7 C305,682.8 308,684 310.2,686.2 C314,689 316.5,691.5 318.8,694 C321.5,698 323.5,701.5 324.9,705.1 C326.8,710 328,714 328.3,718.1 C328.6,722 328.3,725.5 327.5,728.4 C326.5,732 325.5,735 324,737.9 C322,740.5 320,742.5 318,743.9 C316.5,744.8 315,745.2 313.7,745.2" fill="#fff"/>
</g>
<g fill="none" stroke="#666" stroke-width="0.75">
<path d="M292,691 C296,688.5 300,687.5 304,688 C310,689.5 316,695 320,702 C323.5,709 325,717 324.5,724 C324,731 321.5,737 318,741"/>
<path d="M295,694.5 C298,692.5 301.5,692 305,693 C310,695 314.5,700 317.5,706 C320.5,713 321.5,720 320.8,727 C320,733 318,737.5 315,740.5"/>
<path d="M297.5,698 C301,696.5 304,696.5 307,698 C311,700.5 314,705 316,710" stroke="#999"/>
</g>
<path d="M286.5,690 C289,691 290.5,694 290.2,697 L288,699" class="kt"/>
<ellipse cx="319.3" cy="708.2" rx="1.4" ry="1.9" transform="rotate(-20 319.3 708.2)" class="kt"/>
<g class="k" style="fill:#fff">
<!-- tube 1 -->
<path d="M273.5,719.5 C274.5,714 277,709.5 280,706.5 C283,703.5 287,701.5 291,700.3 C294,699.8 297,701 298.5,703.5 C300,707 299.5,711 297,713.5 L288.5,725.8 C286,728.5 281,728.5 277.5,727 C274.5,725.5 273,722.5 273.5,719.5Z"/>
<ellipse cx="280.3" cy="722.6" rx="7.6" ry="4.4" transform="rotate(30 280.3 722.6)"/>
<!-- tube 3 -->
<path d="M302,738 C303,734 305.5,731 309,729.8 C312,729 316,729.2 318.5,730.5 C321,732.5 320.8,736 319.5,738.5 L316,744.8 C313,747 307,746.5 304,744 C302.5,742 301.8,740 302,738Z"/>
<ellipse cx="309.8" cy="741.8" rx="7.8" ry="4" transform="rotate(22 309.8 741.8)"/>
<!-- tube 2 -->
<path d="M287.5,734 C288.5,728 291,722.5 294.5,719 C297.5,716.5 301,715 304.5,714.5 C307.5,714.5 310,716 311,718.5 C312,722 311,725.5 309,728 L301.5,740.5 C299,742.5 294.5,742.5 291,741 C288.5,739.5 287.3,737 287.5,734Z"/>
<ellipse cx="294.3" cy="737.4" rx="7.4" ry="4.3" transform="rotate(30 294.3 737.4)"/>
</g>
<path d="M290.5,703 C294,705 296,709 295.5,714 M303,717 C306,719.5 307.5,723 306.5,727" class="lg" stroke="#999"/>
<!-- screw 506 79 45-01 -->
<g class="k">
<path d="M252.5,758 C250.5,760 250.5,765 252.5,767.5 C254.5,769.5 258.5,769 260.5,766.5 C262.5,764 262,759 259.5,757 C257.5,755.5 254.5,756 252.5,758Z"/>
<path d="M254.5,759.5 C253.5,761 253.5,764.5 254.8,766 C256.5,767.2 258.5,766.5 259.5,764.5 C260.3,762.5 259.8,760 258.5,759 C257.2,758.2 255.5,758.5 254.5,759.5Z" class="kt"/>
<path d="M261,759 L270.8,756.3 L262,765.5"/>
</g>
<path d="M263,759.5 l1.5,4 M265,758.8 l1.2,3.6 M267,758.2 l1,2.8" stroke="#555" stroke-width="0.6"/>
<g class="kb" stroke-width="1.4">
<path d="M65,666.3 L111,649 L220.6,710.9 L233,749.6 L226.2,752.6 L226.2,767.2 L232.8,765.8 L232,820.6 L219.5,825 L219.5,838.1 L184.5,852.4 L96,794.4 L69.7,771.4 L59.8,764.8 L57.5,710.3 Z"/>
</g>
<g class="lg" stroke="#999">
<path d="M65,666.3 L162.5,726.3 M167,727.5 L177,727.5 M181.3,727.2 L220.6,710.9"/>
<path d="M57.5,710.3 L158.8,771.3 M162,772 L185,773.5"/>
<path d="M162.5,726.3 L158.8,771.3 L159.4,827.2 L184.5,852.4 M181.3,727.2 L187.8,771.3 L184.5,852.4"/>
<path d="M190,771 L232.8,750.6"/>
<path d="M69.7,771.4 L159.4,827.2"/>
<path d="M160.5,723 C158.5,724 158.5,728 160,730 C162,731.5 164.5,730 164.5,727 C164.5,724 162.5,722.5 160.5,723Z"/>
<path d="M179.5,724 C177.5,725 177.5,729 179,731 C181,732.5 183.5,731 183.5,728 C183.5,725 181.5,723.5 179.5,724Z"/>
<path d="M186,767.5 C184.5,768.5 184.5,772.5 186,774 C188,775.5 190,774 190,771 C190,768.5 188,767 186,767.5Z"/>
</g>
<g class="k" stroke-width="1">
<!-- oval hole -->
<path d="M126,767.5 C128,765 133,766 138,769.5 C146,775 152,780 155.5,785 C157.5,790 157.5,798 155.5,801.5 C152,803.5 147,801.5 141,797 C135,792 130,787 127.5,781 C125.5,776 125,770 126,767.5Z" stroke="#999" stroke-width="0.9"/>
<path d="M128.5,769.5 C129.5,768 132,768.5 134,770" stroke="#999" stroke-width="0.9"/>
<path d="M134.5,770.5 C139,772 148,779 153,785.5 C156,790 156.5,797 154.5,800.5 C152.5,802.5 149,802 146,799.5 C141,795 136,789 134,783 C132.5,777 132.5,772 134.5,770.5Z" stroke-width="1.4"/>
</g>
<g fill="none" stroke="#222" stroke-width="1.15">
<!-- top windows -->
<path d="M101.6,658.8 L111.9,655 L136.3,669 L125,673.8 Z"/>
<path d="M103.5,659.5 L112,656.5 L134,669 L125,672.5" stroke="#aaa"/>
<path d="M131.6,676.6 L141.9,671.9 L172.8,689.7 L162.5,695.3 Z"/>
<path d="M133.5,677.2 L142,673.4 L171,689.6 L162.5,693.8" stroke="#aaa"/>
<path d="M167.2,697.2 L177.5,692.5 L209.4,710.3 L198.1,716 Z"/>
<path d="M169,697.8 L177.5,694 L207.5,710.3 L198.1,714.5" stroke="#aaa"/>
</g>
<g fill="none" stroke="#555" stroke-width="0.85">

<path d="M78.9,670.9 l5.0,-2.0 l2.6,1.7 l-5.0,2.0 z" stroke-linejoin="round"/>
<path d="M86.5,667.8 l5.0,-2.0 l2.6,1.7 l-5.0,2.0 z" stroke-linejoin="round"/>
<path d="M94.1,664.7 l5.0,-2.0 l2.6,1.7 l-5.0,2.0 z" stroke-linejoin="round"/>
<path d="M85.6,674.5 l5.0,-2.0 l2.6,1.7 l-5.0,2.0 z" stroke-linejoin="round"/>
<path d="M93.2,671.4 l5.0,-2.0 l2.6,1.7 l-5.0,2.0 z" stroke-linejoin="round"/>
<path d="M100.8,668.3 l5.0,-2.0 l2.6,1.7 l-5.0,2.0 z" stroke-linejoin="round"/>
<path d="M92.3,678.1 l5.0,-2.0 l2.6,1.7 l-5.0,2.0 z" stroke-linejoin="round"/>
<path d="M99.9,675.0 l5.0,-2.0 l2.6,1.7 l-5.0,2.0 z" stroke-linejoin="round"/>
<path d="M107.5,671.9 l5.0,-2.0 l2.6,1.7 l-5.0,2.0 z" stroke-linejoin="round"/>
<path d="M99.0,681.7 l5.0,-2.0 l2.6,1.7 l-5.0,2.0 z" stroke-linejoin="round"/>
<path d="M106.6,678.6 l5.0,-2.0 l2.6,1.7 l-5.0,2.0 z" stroke-linejoin="round"/>
<path d="M105.7,685.3 l5.0,-2.0 l2.6,1.7 l-5.0,2.0 z" stroke-linejoin="round"/>
<path d="M75.3,682.8 l3.7,2.04 l0,6.8 l-3.7,-2.04 z"/>
<path d="M80.7,686.2 l3.7,2.04 l0,6.8 l-3.7,-2.04 z"/>
<path d="M86.1,689.6 l3.7,2.04 l0,6.8 l-3.7,-2.04 z"/>
<path d="M91.5,693.0 l3.7,2.04 l0,6.8 l-3.7,-2.04 z"/>
<path d="M96.9,696.4 l3.7,2.04 l0,6.8 l-3.7,-2.04 z"/>
<path d="M102.3,699.8 l3.7,2.04 l0,6.8 l-3.7,-2.04 z"/>
<path d="M74.0,694.6 l3.7,2.04 l0,6.8 l-3.7,-2.04 z"/>
<path d="M79.4,698.0 l3.7,2.04 l0,6.8 l-3.7,-2.04 z"/>
<path d="M84.8,701.4 l3.7,2.04 l0,6.8 l-3.7,-2.04 z"/>
<path d="M90.2,704.8 l3.7,2.04 l0,6.8 l-3.7,-2.04 z"/>
<path d="M95.6,708.2 l3.7,2.04 l0,6.8 l-3.7,-2.04 z"/>
<path d="M101.0,711.6 l3.7,2.04 l0,6.8 l-3.7,-2.04 z"/>
<path d="M72.7,706.4 l3.7,2.04 l0,6.8 l-3.7,-2.04 z"/>
<path d="M78.1,709.8 l3.7,2.04 l0,6.8 l-3.7,-2.04 z"/>
<path d="M83.5,713.2 l3.7,2.04 l0,6.8 l-3.7,-2.04 z"/>
<path d="M88.9,716.6 l3.7,2.04 l0,6.8 l-3.7,-2.04 z"/>
<path d="M94.3,720.0 l3.7,2.04 l0,6.8 l-3.7,-2.04 z"/>
<path d="M99.7,723.4 l3.7,2.04 l0,6.8 l-3.7,-2.04 z"/>
<path d="M70.3,722.5 l3.7,2.04 l0,6.8 l-3.7,-2.04 z"/>
<path d="M75.8,726.0 l3.7,2.04 l0,6.8 l-3.7,-2.04 z"/>
<path d="M81.3,729.4 l3.7,2.04 l0,6.8 l-3.7,-2.04 z"/>
<path d="M86.8,732.9 l3.7,2.04 l0,6.8 l-3.7,-2.04 z"/>
<path d="M92.3,736.3 l3.7,2.04 l0,6.8 l-3.7,-2.04 z"/>
<path d="M97.8,739.8 l3.7,2.04 l0,6.8 l-3.7,-2.04 z"/>
<path d="M103.3,743.2 l3.7,2.04 l0,6.8 l-3.7,-2.04 z"/>
<path d="M108.8,746.6 l3.7,2.04 l0,6.8 l-3.7,-2.04 z"/>
<path d="M114.3,750.1 l3.7,2.04 l0,6.8 l-3.7,-2.04 z"/>
<path d="M70.3,733.7 l3.7,2.04 l0,6.8 l-3.7,-2.04 z"/>
<path d="M75.8,737.2 l3.7,2.04 l0,6.8 l-3.7,-2.04 z"/>
<path d="M81.3,740.6 l3.7,2.04 l0,6.8 l-3.7,-2.04 z"/>
<path d="M86.8,744.1 l3.7,2.04 l0,6.8 l-3.7,-2.04 z"/>
<path d="M92.3,747.5 l3.7,2.04 l0,6.8 l-3.7,-2.04 z"/>
<path d="M97.8,751.0 l3.7,2.04 l0,6.8 l-3.7,-2.04 z"/>
<path d="M103.3,754.4 l3.7,2.04 l0,6.8 l-3.7,-2.04 z"/>
<path d="M108.8,757.9 l3.7,2.04 l0,6.8 l-3.7,-2.04 z"/>
<path d="M114.3,761.3 l3.7,2.04 l0,6.8 l-3.7,-2.04 z"/>
<path d="M190.8,730.8 l3.7,-1.11 l0,6.8 l-3.7,1.11 z"/>
<path d="M195.9,729.1 l3.7,-1.11 l0,6.8 l-3.7,1.11 z"/>
<path d="M201.0,727.4 l3.7,-1.11 l0,6.8 l-3.7,1.11 z"/>
<path d="M206.1,725.7 l3.7,-1.11 l0,6.8 l-3.7,1.11 z"/>
<path d="M211.2,724.0 l3.7,-1.11 l0,6.8 l-3.7,1.11 z"/>
<path d="M216.3,722.3 l3.7,-1.11 l0,6.8 l-3.7,1.11 z"/>
<path d="M191.2,742.4 l3.7,-1.11 l0,6.8 l-3.7,1.11 z"/>
<path d="M196.3,740.7 l3.7,-1.11 l0,6.8 l-3.7,1.11 z"/>
<path d="M201.4,739.0 l3.7,-1.11 l0,6.8 l-3.7,1.11 z"/>
<path d="M206.5,737.3 l3.7,-1.11 l0,6.8 l-3.7,1.11 z"/>
<path d="M211.6,735.6 l3.7,-1.11 l0,6.8 l-3.7,1.11 z"/>
<path d="M216.7,733.9 l3.7,-1.11 l0,6.8 l-3.7,1.11 z"/>
<path d="M191.6,754.0 l3.7,-1.11 l0,6.8 l-3.7,1.11 z"/>
<path d="M196.7,752.3 l3.7,-1.11 l0,6.8 l-3.7,1.11 z"/>
<path d="M201.8,750.6 l3.7,-1.11 l0,6.8 l-3.7,1.11 z"/>
<path d="M206.9,748.9 l3.7,-1.11 l0,6.8 l-3.7,1.11 z"/>
<path d="M212.0,747.2 l3.7,-1.11 l0,6.8 l-3.7,1.11 z"/>
<path d="M217.1,745.5 l3.7,-1.11 l0,6.8 l-3.7,1.11 z"/>
</g>
<ellipse cx="185" cy="837.5" rx="1.6" ry="2.2" fill="#222" transform="rotate(20 185 837.5)"/><g class="t" transform="translate(0 -0.8)">
<text x="807" y="46">725 24 57-51 <tspan class="b" dx="1.5">(x3)</tspan></text>
<text x="804" y="85">734 11 64-01 <tspan class="b" dx="1.5">(x3)</tspan></text>
<text x="892" y="123">535 44 07-01</text>
<text x="349" y="121.5">535 48 52-01</text>
<text x="225.5" y="165"><tspan class="b">(x2)</tspan> 506 55 63-01</text>
<text x="206" y="221.5">506 66 84-01</text>
<text x="425.5" y="290">506 91 45-01</text>
<text x="437" y="378.6">725 24 57-51</text>
<text x="613.5" y="391">506 55 59-01</text>
<text x="594.5" y="411.8">506 55 08-05</text>
<text x="598" y="432.2">735 21 64-00</text>
<text x="801" y="413.7">506 50 92-01</text>
<text x="681.8" y="453.7">725 23 66-51 <tspan class="b" dx="1.5">(x4)</tspan></text>
<text x="747.5" y="506">725 24 51-51 <tspan class="b" dx="1.5">(x2)</tspan></text>
<text x="830.8" y="540">506 57 01-03 <tspan class="b" dx="1.5">(x2)</tspan></text>
<text x="356.7" y="544">535 43 93-01</text>
<text x="184" y="627.5">535 40 08-01</text>
<text x="340.7" y="764.7">506 82 79-01</text>
<text x="278.5" y="788.3">506 79 45-01 <tspan class="b" dx="1.5">(x4)</tspan></text>
<text x="252" y="819">506 90 87-01</text>
<text x="831.5" y="741.5">731 23 18-01 <tspan class="b" dx="1.5">(x2)</tspan></text>
<text x="805" y="776.2">731 23 18-01 <tspan class="b" dx="1.5">(x4)</tspan></text>
<text x="748.5" y="815.5">731 23 18-01 <tspan class="b" dx="1.5">(x2)</tspan></text>
</g>
</svg>
</body></html>
